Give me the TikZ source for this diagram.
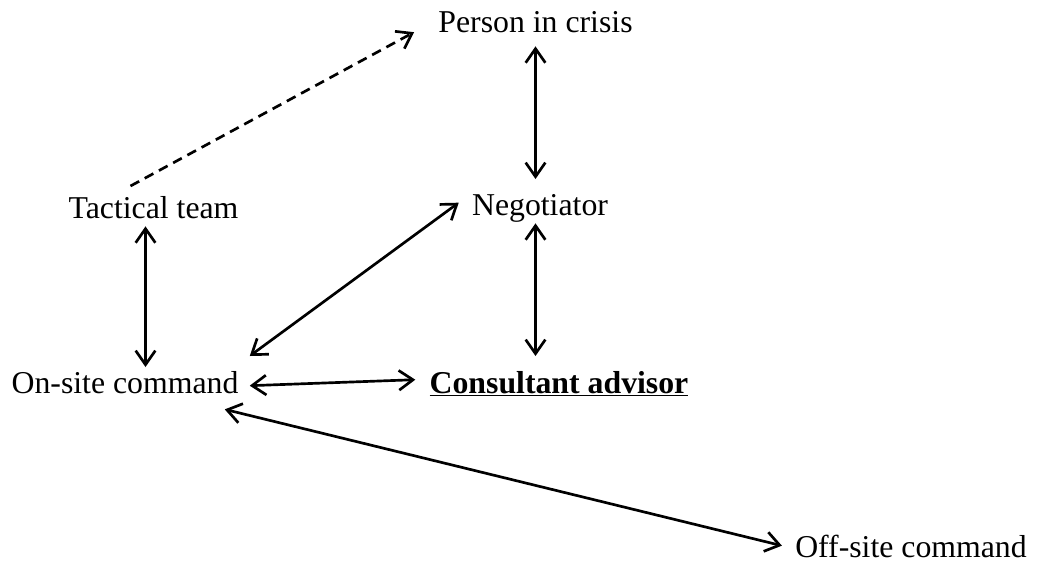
\documentclass[tikz,border=0pt]{standalone}
\usepackage{fontspec}
\setmainfont{Liberation Serif}
\usepackage{tikz}
\usetikzlibrary{arrows.meta}

\begin{document}
\begin{tikzpicture}[> = {Straight Barb[length = 10pt, width = 14pt]}, x = 0.025cm, y = -0.025cm, line width = 1.9pt, every node/.style = {inner sep = 0pt, anchor = base, text height = 15.4pt, text depth = 5pt, font = \fontsize{22.6}{27}\selectfont}]
    \useasboundingbox (0, 0) rectangle (1037, 564);
    \node (pic) at (535.5, 33)   {Person in crisis};
    \node (neg) at (540, 215)   {Negotiator};
    \node (tac) at (153.5, 218)   {Tactical team};
    \node (ons) at (125, 393)   {On-site command};
    \node (con) at (559, 393)   {\textbf{\underline{Consultant advisor}}};
    \node (off) at (911, 557)   {Off-site command};
    \draw[->, dashed, dash pattern = on 7pt off 4.5pt] ([shift = {(-23, -9)}]tac.north) -- ([shift = {(-23, 6.5)}]pic.west);
    \draw[<->] ([shift = {(0, 5)}]pic.south) -- ([shift = {(0, -13)}]pic.south |- neg.north);
    \draw[<->] ([shift = {(0, 0)}]neg.south -| pic.south) -- ([shift = {(0, -14)}]con.north -| pic.south);
    \draw[<->] ([shift = {(-8, 0)}]tac.south) -- ([shift = {(-8, -3)}]tac.south |- ons.north);
    \draw[<->] ([shift = {(-12, -5)}]neg.west) -- ([shift = {(10, -14)}]ons.north east);
    \draw[<->] ([shift = {(10, 0)}]ons.east) -- ([shift = {(-13, -6)}]con.west);
    \draw[<->] ([shift = {(-15, 8)}]ons.south east) -- ([shift = {(-12, -4)}]off.west);
    %\draw[<->] (ons) -- (off);
\end{tikzpicture}
\end{document}
